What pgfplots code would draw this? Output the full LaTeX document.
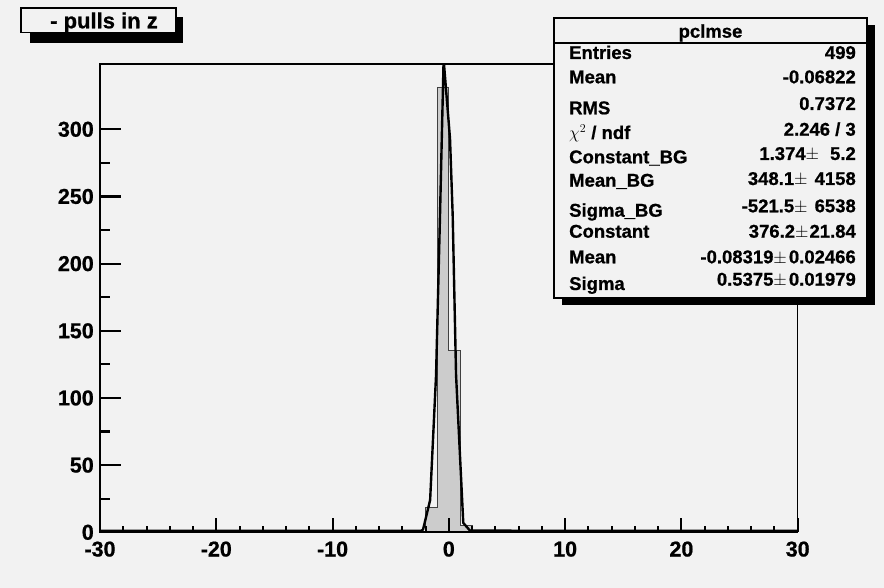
\documentclass[border=0pt]{standalone}
\usepackage{pgfplots}
\pgfplotsset{compat=1.18}
\usepackage{fontspec}
\setmainfont{Liberation Sans}[BoldFeatures={FakeBold=0.8}]
\definecolor{bg}{HTML}{F2F2F2}
\definecolor{histfill}{HTML}{CCCCCC}
\newcommand{\tickfont}{\fontsize{21.5}{21.5}\selectfont\bfseries}
\newcommand{\statfont}{\fontsize{18.5}{18.5}\selectfont\bfseries}
\begin{document}
\begin{tikzpicture}[x=1pt,y=1pt]
\fill[bg] (0,0) rectangle (884,588);
% main axis: histogram, fit, x ticks
\begin{axis}[
  at={(100pt,55.7pt)}, anchor=south west,
  scale only axis, width=697.7pt, height=468.3pt,
  xmin=-30, xmax=30, ymin=0, ymax=348.6,
  xtick={-30,-20,-10,0,10,20,30},
  xticklabels={-30,-20,-10,0,10,20,30},
  minor x tick num=4,
  ytick=\empty,
  tick align=inside, tick pos=left,
  major tick length=14pt, minor tick length=6.5pt,
  every tick/.style={black, line width=2pt},
  xticklabel style={font=\tickfont, inner sep=0pt, anchor=north, yshift=-9pt},
  axis line style={line width=1.5pt},
  axis on top,
]
\addplot[const plot, fill=histfill, draw=black!75, line width=1pt]
  coordinates {(-2,18.6) (-1,331) (0,135.4) (1,5.4) (2,5.4)} \closedcycle;
\addplot[black, line width=2.4pt, line join=round]
  coordinates {(-30,1.1) (-2.4,1.1) (-2.22,2) (-1.61,24) (-1.10,117) (-0.76,236)
               (-0.45,352) (0.10,293) (0.33,236) (0.62,117) (1.24,7) (1.82,1.2) (30,1.1)};
\draw[line width=2.7pt] (rel axis cs:0,0) -- (rel axis cs:1,0);
\draw[line width=2.7pt] (rel axis cs:0,0) -- (rel axis cs:0,1);
\end{axis}
% overlay axis for y ticks
\begin{axis}[
  at={(100pt,55.7pt)}, anchor=south west,
  scale only axis, width=697.7pt, height=468.3pt,
  xmin=-30, xmax=30, ymin=0, ymax=348.6,
  xtick=\empty,
  ytick={0,50,100,150,200,250,300},
  yticklabels={0,50,100,150,200,250,300},
  minor y tick num=1,
  tick align=inside, tick pos=left,
  major tick length=21pt, minor tick length=10pt,
  every tick/.style={black, line width=2.2pt},
  yticklabel style={font=\tickfont, inner sep=0pt, anchor=east, xshift=-6pt},
  axis line style={draw=none},
]
\end{axis}
% title box
\fill[black] (30,545) rectangle (183,571);
\filldraw[fill=bg, draw=black, line width=1.8pt] (21,579.7) rectangle (176,555.5);
\node[anchor=base, inner sep=0pt, font=\fontsize{22}{22}\selectfont\bfseries] at (104,559.7) {- pulls in z};
% stats box
\fill[black] (562,283) rectangle (875,563);
\filldraw[fill=bg, draw=black, line width=1.8pt] (554,570) rectangle (867,290);
\draw[line width=1.5pt] (554,545) -- (867,545);
\node[anchor=base, inner sep=0pt, font=\statfont] at (710.5,550.3) {pclmse};
\begin{scope}[every node/.style={anchor=base west, inner sep=0pt, font=\statfont}]
\node at (569,529) {Entries};
\node at (569,504.7) {Mean};
\node at (569,473.7) {RMS};
\node at (569,449) {$\chi^2$ / ndf};
\node at (569,424.7) {Constant\_BG};
\node at (569,401.3) {Mean\_BG};
\node at (569,371.3) {Sigma\_BG};
\node at (569,350.3) {Constant};
\node at (569,324.7) {Mean};
\node at (569,298) {Sigma};
\end{scope}
\begin{scope}[every node/.style={anchor=base east, inner sep=0pt, font=\statfont}]
\node at (856,529) {499};
\node at (856,504.7) {-0.06822};
\node at (856,478) {0.7372};
\node at (856,452.3) {2.246 / 3};
\node at (856,428) {1.374$\pm$\hspace{11pt}5.2};
\node at (856,403) {348.1$\pm$\hspace{7pt}4158};
\node at (856,375.7) {-521.5$\pm$\hspace{7pt}6538};
\node at (856,350.3) {376.2$\pm$\hspace{1pt}21.84};
\node at (856,324.7) {-0.08319$\pm$\hspace{2pt}0.02466};
\node at (856,302.3) {0.5375$\pm$\hspace{2pt}0.01979};
\end{scope}
\end{tikzpicture}
\end{document}
